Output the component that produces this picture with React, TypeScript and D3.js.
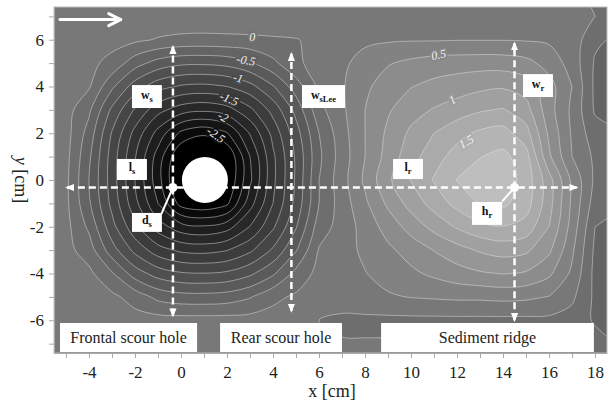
import { useEffect, useRef } from "react";
import * as d3 from "d3";

// grid of bed level change [cm], columns = x [cm], rows = y [cm]
const gridX = [-6, -5, -4, -3, -2, -1, 0, 1, 2, 3, 4, 5, 6, 7, 8, 9, 10, 11, 12, 13, 14, 15, 16, 17, 18, 19];
const gridY = [8, 7, 6, 5, 4, 3, 2, 1, 0, -1, -2, -3, -4, -5, -6, -7, -8];

const depth = [
  /* y= 8 */ [0.1, 0.1, 0.1, 0.1, 0.1, 0.1, 0.1, 0.1, 0.1, 0.1, 0.1, 0.1, 0.1, 0.1, 0.12, 0.12, 0.12, 0.12, 0.12, 0.12, 0.12, 0.12, 0.1, 0.05, -0.05, -0.1],
  /* y= 7 */ [0.12, 0.12, 0.12, 0.12, 0.15, 0.18, 0.18, 0.18, 0.18, 0.18, 0.18, 0.16, 0.12, 0.12, 0.14, 0.15, 0.16, 0.17, 0.18, 0.18, 0.18, 0.17, 0.15, 0.08, 0.0, -0.1],
  /* y= 6 */ [0.12, 0.12, 0.1, 0.08, 0.05, -0.02, -0.06, -0.07, -0.06, -0.05, -0.03, -0.01, 0.05, 0.12, 0.2, 0.22, 0.23, 0.23, 0.24, 0.24, 0.24, 0.23, 0.21, 0.15, -0.2, -0.3],
  /* y= 5 */ [0.12, 0.1, 0.06, -0.07, -0.39, -0.6, -0.7, -0.71, -0.67, -0.54, -0.31, -0.05, 0.1, 0.2, 0.35, 0.48, 0.56, 0.62, 0.64, 0.65, 0.64, 0.58, 0.4, 0.15, -0.28, -0.38],
  /* y= 4 */ [0.12, 0.1, 0.03, -0.45, -0.87, -1.15, -1.28, -1.31, -1.25, -1.08, -0.77, -0.37, 0.05, 0.22, 0.45, 0.62, 0.74, 0.82, 0.88, 0.94, 0.97, 0.88, 0.6, 0.25, -0.3, -0.4],
  /* y= 3 */ [0.12, 0.1, -0.2, -0.8, -1.28, -1.66, -1.88, -1.95, -1.85, -1.56, -1.16, -0.67, -0.08, 0.2, 0.5, 0.72, 0.9, 1.02, 1.12, 1.22, 1.27, 1.1, 0.6, 0.2, -0.28, -0.38],
  /* y= 2 */ [0.12, 0.1, -0.35, -1.02, -1.58, -2.09, -2.56, -2.7, -2.52, -1.98, -1.42, -0.86, -0.25, 0.15, 0.5, 0.8, 1.05, 1.25, 1.42, 1.55, 1.6, 1.35, 0.7, 0.22, -0.15, -0.22],
  /* y= 1 */ [0.1, 0.08, -0.45, -1.11, -1.73, -2.36, -3.0, -3.2, -3.0, -2.25, -1.55, -0.96, -0.3, 0.12, 0.5, 0.85, 1.15, 1.4, 1.6, 1.74, 1.82, 1.6, 0.8, 0.25, -0.05, -0.1],
  /* y= 0 */ [0.1, 0.06, -0.5, -1.12, -1.75, -2.4, -3.1, -3.3, -3.0, -2.3, -1.56, -0.96, -0.25, 0.15, 0.55, 0.95, 1.26, 1.52, 1.76, 1.88, 1.9, 1.65, 1.1, 0.45, -0.05, -0.1],
  /* y=-1 */ [0.1, 0.06, -0.46, -1.07, -1.67, -2.25, -2.85, -2.95, -2.8, -2.1, -1.5, -0.92, -0.25, 0.12, 0.45, 0.8, 1.1, 1.35, 1.58, 1.77, 1.8, 1.62, 1.1, 0.45, -0.12, -0.2],
  /* y=-2 */ [0.1, 0.08, -0.3, -0.91, -1.43, -1.87, -2.15, -2.22, -2.1, -1.74, -1.29, -0.77, -0.12, 0.1, 0.35, 0.6, 0.85, 1.08, 1.28, 1.43, 1.49, 1.4, 1.0, 0.4, -0.25, -0.35],
  /* y=-3 */ [0.1, 0.08, -0.12, -0.64, -1.07, -1.39, -1.55, -1.58, -1.51, -1.3, -0.96, -0.52, 0.02, 0.15, 0.3, 0.45, 0.6, 0.76, 0.9, 1.03, 1.1, 1.05, 0.8, 0.3, -0.3, -0.4],
  /* y=-4 */ [0.1, 0.08, 0.06, -0.22, -0.62, -0.86, -0.97, -0.99, -0.95, -0.8, -0.54, -0.17, 0.08, 0.15, 0.24, 0.35, 0.45, 0.55, 0.65, 0.72, 0.76, 0.72, 0.55, 0.2, -0.32, -0.42],
  /* y=-5 */ [0.1, 0.08, 0.08, 0.06, -0.1, -0.32, -0.4, -0.41, -0.38, -0.27, -0.06, 0.04, 0.08, 0.12, 0.18, 0.22, 0.26, 0.28, 0.3, 0.3, 0.32, 0.3, 0.24, 0.05, -0.3, -0.4],
  /* y=-6 */ [0.1, 0.1, 0.1, 0.1, 0.1, 0.1, 0.1, 0.1, 0.1, 0.1, 0.1, 0.05, 0.0, -0.05, -0.06, -0.06, -0.06, -0.06, -0.06, -0.06, -0.06, -0.06, -0.06, -0.1, -0.28, -0.35],
  /* y=-7 */ [0.1, 0.1, 0.1, 0.1, 0.1, 0.1, 0.1, 0.1, 0.1, 0.1, 0.1, 0.1, 0.1, 0.02, 0.02, 0.02, 0.02, 0.02, 0.02, 0.02, 0.02, 0.02, 0.02, -0.05, -0.15, -0.25],
  /* y=-8 */ [0.1, 0.1, 0.1, 0.1, 0.1, 0.1, 0.1, 0.1, 0.1, 0.1, 0.1, 0.1, 0.1, 0.1, 0.1, 0.1, 0.1, 0.1, 0.1, 0.1, 0.1, 0.1, 0.1, 0.05, -0.05, -0.1],
];

const levels = [-2.75, -2.5, -2.25, -2, -1.75, -1.5, -1.25, -1, -0.75, -0.5, -0.25, 0, 0.25, 0.5, 0.75, 1, 1.25, 1.5, 1.75];

const xTicks = [-5, -4, -3, -2, -1, 0, 1, 2, 3, 4, 5, 6, 7, 8, 9, 10, 11, 12, 13, 14, 15, 16, 17, 18];
const yTicks = [-7, -6, -5, -4, -3, -2, -1, 0, 1, 2, 3, 4, 5, 6, 7];

const contourLabels = [
  { text: "0", x: 3.1, y: 6.12, angle: 0 },
  { text: "-0.5", x: 2.83, y: 5.12, angle: 10 },
  { text: "-1", x: 2.48, y: 4.37, angle: 15 },
  { text: "-1.5", x: 2.09, y: 3.47, angle: 22 },
  { text: "-2", x: 1.83, y: 2.7, angle: 30 },
  { text: "-2.5", x: 1.52, y: 1.93, angle: 35 },
  { text: "0.5", x: 11.2, y: 5.36, angle: -10 },
  { text: "1", x: 11.8, y: 3.43, angle: -30 },
  { text: "1.5", x: 12.4, y: 1.63, angle: -30 },
];

// dimension markers
const vArrows = [
  { x: -0.35, y1: -5.8, y2: 5.7 },
  { x: 4.8, y1: -5.6, y2: 5.4 },
  { x: 14.5, y1: -6.0, y2: 5.85 },
];
const hArrow = { y: -0.32, x1: -4.96, x2: 17.2 };
const dots = [{ x: -0.35, y: -0.32 }, { x: 14.5, y: -0.32 }];
const connectors = [
  { x1: -0.35, y1: -0.32, x2: -0.85, y2: -1.45 },
  { x1: 14.5, y1: -0.32, x2: 13.96, y2: -0.92 },
];
const pier = { x: 1.04, y: 0, r: 1 };

const symbolBoxes = [
  { main: "w", sub: "s", x0: -2.13, x1: -0.83, y0: 3.08, y1: 4.06 },
  { main: "w", sub: "sLee", x0: 5.26, x1: 7.13, y0: 3.08, y1: 4.06 },
  { main: "l", sub: "s", x0: -2.78, x1: -1.48, y0: 0.0, y1: 0.9 },
  { main: "d", sub: "s", x0: -2.13, x1: -0.83, y0: -2.22, y1: -1.41 },
  { main: "l", sub: "r", x0: 9.22, x1: 10.52, y0: 0.04, y1: 0.9 },
  { main: "w", sub: "r", x0: 14.87, x1: 16.17, y0: 3.55, y1: 4.53 },
  { main: "h", sub: "r", x0: 12.65, x1: 13.96, y0: -1.92, y1: -0.94 },
];

const regionBoxes = [
  { text: "Frontal scour hole", x0: -5.26, x1: 0.7 },
  { text: "Rear scour hole", x0: 1.7, x1: 7.0 },
  { text: "Sediment ridge", x0: 8.7, x1: 17.95 },
];

const flowArrow = { x1: -5.26, x2: -2.62, y: 6.86 };

const W = 608;
const H = 402;
const plot = { left: 54, right: 607, top: 7, bottom: 353 };

const App: React.FC = () => {
  const svgRef = useRef<SVGSVGElement | null>(null);

  useEffect(() => {
    if (!svgRef.current) return;
    const svg = d3.select(svgRef.current);
    svg.selectAll("*").remove();

    const x = d3.scaleLinear().domain([-5.52, 18.52]).range([plot.left, plot.right]);
    const y = d3.scaleLinear().domain([-7.4, 7.4]).range([plot.bottom, plot.top]);
    const gray = (v: number) => {
      const g = Math.max(0, Math.min(255, Math.round(115 + 40 * v)));
      return d3.rgb(g, g, g).formatHex();
    };
    const serif = "'Liberation Serif', 'Times New Roman', serif";

    const defs = svg.append("defs");
    defs.append("clipPath").attr("id", "plotClip")
      .append("rect")
      .attr("x", plot.left).attr("y", plot.top)
      .attr("width", plot.right - plot.left).attr("height", plot.bottom - plot.top);
    defs.append("marker")
      .attr("id", "head")
      .attr("viewBox", "0 0 10 10")
      .attr("refX", 8).attr("refY", 5)
      .attr("markerUnits", "userSpaceOnUse")
      .attr("markerWidth", 9).attr("markerHeight", 9)
      .attr("orient", "auto-start-reverse")
      .append("path").attr("d", "M0,1 L10,5 L0,9 z").attr("fill", "#fff");

    // contours
    const nx = gridX.length;
    const ny = gridY.length;
    const dx = gridX[1] - gridX[0];
    const dy = gridY[1] - gridY[0];
    const contours = d3.contours().size([nx, ny]).thresholds(levels)(depth.flat());
    const toPx = (p: number[]): [number, number] => [
      x(gridX[0] + (p[0] - 0.5) * dx),
      y(gridY[0] + (p[1] - 0.5) * dy),
    ];
    const ringLine = d3.line().curve(d3.curveCatmullRomClosed.alpha(0.5));
    const pathOf = (mp: d3.ContourMultiPolygon) =>
      mp.coordinates
        .map(poly => poly.map(ring => ringLine(ring.slice(0, -1).map(toPx)) || "").join(""))
        .join("");

    const field = svg.append("g").attr("clip-path", "url(#plotClip)");
    field.append("rect")
      .attr("x", plot.left).attr("y", plot.top)
      .attr("width", plot.right - plot.left).attr("height", plot.bottom - plot.top)
      .attr("fill", "#000");
    field.selectAll("path.band")
      .data(contours)
      .join("path")
      .attr("class", "band")
      .attr("d", d => pathOf(d))
      .attr("fill-rule", "evenodd")
      .attr("fill", d => gray(d.value + 0.125));
    field.selectAll("path.iso")
      .data(contours)
      .join("path")
      .attr("class", "iso")
      .attr("d", d => pathOf(d))
      .attr("fill", "none")
      .attr("stroke", "#e6e6e6")
      .attr("stroke-opacity", 0.6)
      .attr("stroke-width", 0.8);

    // contour labels
    field.selectAll("text.clab")
      .data(contourLabels)
      .join("text")
      .attr("class", "clab")
      .attr("transform", d => `translate(${x(d.x)},${y(d.y)}) rotate(${d.angle})`)
      .attr("text-anchor", "middle")
      .attr("dominant-baseline", "central")
      .attr("font-family", serif)
      .attr("font-style", "italic")
      .attr("font-size", 12)
      .attr("fill", "#f2f2f2")
      .attr("stroke", d => gray(+d.text))
      .attr("stroke-width", 4)
      .attr("paint-order", "stroke")
      .text(d => d.text);

    // pier
    field.append("circle")
      .attr("cx", x(pier.x)).attr("cy", y(pier.y))
      .attr("r", x(pier.r) - x(0))
      .attr("fill", "#fff");

    // dimension arrows
    const ann = svg.append("g");
    ann.selectAll("line.v")
      .data(vArrows)
      .join("line")
      .attr("x1", d => x(d.x)).attr("x2", d => x(d.x))
      .attr("y1", d => y(d.y1)).attr("y2", d => y(d.y2))
      .attr("stroke", "#fff").attr("stroke-width", 2.5)
      .attr("stroke-dasharray", "7,4")
      .attr("marker-start", "url(#head)").attr("marker-end", "url(#head)");
    ann.append("line")
      .attr("x1", x(hArrow.x1)).attr("x2", x(hArrow.x2))
      .attr("y1", y(hArrow.y)).attr("y2", y(hArrow.y))
      .attr("stroke", "#fff").attr("stroke-width", 2.5)
      .attr("stroke-dasharray", "7,4")
      .attr("marker-start", "url(#head)").attr("marker-end", "url(#head)");
    ann.selectAll("line.conn")
      .data(connectors)
      .join("line")
      .attr("class", "conn")
      .attr("x1", d => x(d.x1)).attr("y1", d => y(d.y1))
      .attr("x2", d => x(d.x2)).attr("y2", d => y(d.y2))
      .attr("stroke", "#fff").attr("stroke-width", 2);
    ann.selectAll("circle.dot")
      .data(dots)
      .join("circle")
      .attr("class", "dot")
      .attr("cx", d => x(d.x)).attr("cy", d => y(d.y))
      .attr("r", 4.5).attr("fill", "#fff");

    // flow arrow
    const fy = y(flowArrow.y);
    ann.append("line")
      .attr("x1", x(flowArrow.x1)).attr("x2", x(flowArrow.x2))
      .attr("y1", fy).attr("y2", fy)
      .attr("stroke", "#fff").attr("stroke-width", 3).attr("stroke-linecap", "round");
    ann.append("path")
      .attr("d", `M${x(flowArrow.x2) - 12},${fy - 6} L${x(flowArrow.x2)},${fy} L${x(flowArrow.x2) - 12},${fy + 6}`)
      .attr("fill", "none").attr("stroke", "#fff").attr("stroke-width", 3)
      .attr("stroke-linecap", "round").attr("stroke-linejoin", "round");

    // symbol boxes
    const sb = ann.selectAll("g.sym").data(symbolBoxes).join("g").attr("class", "sym");
    sb.append("rect")
      .attr("x", d => x(d.x0)).attr("y", d => y(d.y1))
      .attr("width", d => x(d.x1) - x(d.x0)).attr("height", d => y(d.y0) - y(d.y1))
      .attr("fill", "#fff");
    const st = sb.append("text")
      .attr("x", d => (x(d.x0) + x(d.x1)) / 2)
      .attr("y", d => (y(d.y0) + y(d.y1)) / 2 + 2)
      .attr("text-anchor", "middle")
      .attr("font-family", serif)
      .attr("font-weight", "bold")
      .attr("fill", "#111");
    st.append("tspan").attr("font-size", 12).text(d => d.main);
    st.append("tspan").attr("font-size", 8.5).attr("dy", 3).text(d => d.sub);

    // region boxes
    const rb = ann.selectAll("g.reg").data(regionBoxes).join("g").attr("class", "reg");
    rb.append("rect")
      .attr("x", d => x(d.x0)).attr("y", 323)
      .attr("width", d => x(d.x1) - x(d.x0)).attr("height", 29)
      .attr("fill", "#fff");
    rb.append("text")
      .attr("x", d => (x(d.x0) + x(d.x1)) / 2)
      .attr("y", 343)
      .attr("text-anchor", "middle")
      .attr("font-family", serif)
      .attr("font-size", 16)
      .attr("fill", "#222")
      .text(d => d.text);

    // frame
    svg.append("rect")
      .attr("x", plot.left).attr("y", plot.top)
      .attr("width", plot.right - plot.left).attr("height", plot.bottom - plot.top)
      .attr("fill", "none").attr("stroke", "#bdbdbd").attr("stroke-width", 1);

    // axes
    const xAxis = d3.axisBottom(x)
      .tickValues(xTicks)
      .tickFormat(d => (+d % 2 === 0 ? String(d) : ""))
      .tickSize(5).tickSizeOuter(0).tickPadding(8);
    const yAxis = d3.axisLeft(y)
      .tickValues(yTicks)
      .tickFormat(d => (+d % 2 === 0 ? String(d) : ""))
      .tickSize(5).tickSizeOuter(0).tickPadding(5);

    const gx = svg.append("g").attr("transform", `translate(0,${plot.bottom})`).call(xAxis);
    const gy = svg.append("g").attr("transform", `translate(${plot.left},0)`).call(yAxis);
    [gx, gy].forEach(g => {
      g.attr("font-family", serif);
      g.select(".domain").attr("stroke", "#a8a8a8");
      g.selectAll(".tick line").attr("stroke", "#a8a8a8");
      g.selectAll(".tick text")
        .attr("font-family", serif)
        .attr("font-size", 17)
        .attr("fill", "#222");
    });

    svg.append("text")
      .attr("x", 332).attr("y", 397)
      .attr("text-anchor", "middle")
      .attr("font-family", serif).attr("font-size", 18).attr("fill", "#222")
      .text("x [cm]");
    const yl = svg.append("text")
      .attr("transform", `translate(15,${y(0)}) rotate(90)`)
      .attr("text-anchor", "middle")
      .attr("font-family", serif).attr("font-size", 18).attr("fill", "#222");
    yl.append("tspan").attr("font-style", "italic").text("y");
    yl.append("tspan").text(" [cm]");
  }, []);

  return (
    <svg
      ref={svgRef}
      width={W}
      height={H}
      style={{ position: "absolute", left: 0, top: 0, background: "#fff" }}
    />
  );
};

export default App;
